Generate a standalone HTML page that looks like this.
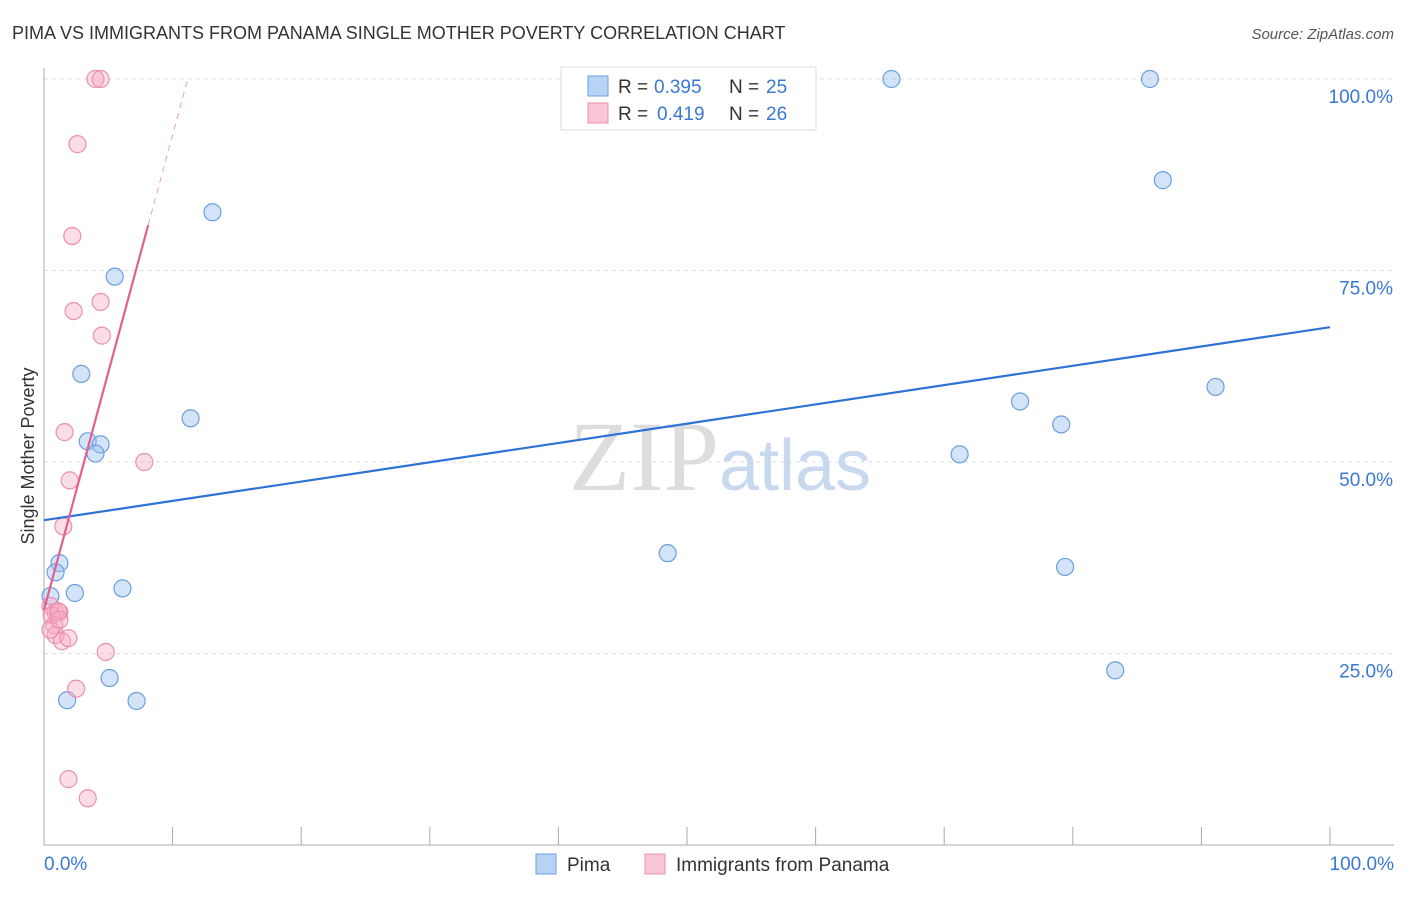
<!DOCTYPE html>
<html><head><meta charset="utf-8"><style>
body{margin:0;background:#fff;font-family:"Liberation Sans",sans-serif}
</style></head><body>
<svg width="1406" height="892" xmlns="http://www.w3.org/2000/svg" font-family="Liberation Sans, sans-serif">
<text x="12" y="39" font-size="18" fill="#333">PIMA VS IMMIGRANTS FROM PANAMA SINGLE MOTHER POVERTY CORRELATION CHART</text>
<text x="1394" y="39" font-size="15" fill="#555" text-anchor="end" font-style="italic">Source: ZipAtlas.com</text>
<g id="grid"></g>
<text x="720" y="490" font-size="100" text-anchor="middle" fill="#ddd" font-family="Liberation Serif, serif">ZIP<tspan fill="#c8d8ee" font-family="Liberation Sans, sans-serif" font-size="72">atlas</tspan></text>
<g id="axes"></g>
<g id="marks"></g>
<text transform="translate(34,456) rotate(-90)" font-size="18" fill="#333" text-anchor="middle">Single Mother Poverty</text>
<g font-size="19" fill="#333">
<rect x="561" y="67" width="255" height="63" fill="#fff" stroke="#ddd"/>
<rect x="588" y="76" width="20" height="20" fill="#b9d3f5" stroke="#6a9fe0"/>
<text x="618" y="93">R =</text><text x="654" y="93" fill="#3a78d4">0.395</text>
<text x="729" y="93">N =</text><text x="766" y="93" fill="#3a78d4">25</text>
<rect x="588" y="103" width="20" height="20" fill="#f9c6d6" stroke="#ec8fad"/>
<text x="618" y="120">R =</text><text x="657" y="120" fill="#3a78d4">0.419</text>
<text x="729" y="120">N =</text><text x="766" y="120" fill="#3a78d4">26</text>
</g>
<g>
<rect x="536" y="854" width="20" height="20" fill="#b9d3f5" stroke="#6a9fe0"/>
<text x="567" y="871" font-size="19" fill="#333">Pima</text>
<rect x="645" y="854" width="20" height="20" fill="#f9c6d6" stroke="#ec8fad"/>
<text x="676" y="871" font-size="19" fill="#333">Immigrants from Panama</text>
</g>
</svg>
<script>
const pimaX=[13.1,5.5,2.9,11.4,3.4,4.4,4.0,1.2,0.9,2.4,0.5,6.1,5.1,1.8,7.2,48.5,65.9,86.0,87.0,75.9,79.1,71.2,79.4,91.1,83.3];
const pimaY=[82.6,74.2,61.5,55.7,52.7,52.3,51.1,36.8,35.6,32.9,32.5,33.5,21.8,18.9,18.8,38.1,100,100,86.8,57.9,54.9,51.0,36.3,59.8,22.8];
const panX=[4.0,4.4,2.6,2.2,2.3,4.4,4.5,1.6,7.8,2.0,1.5,0.5,0.9,1.2,0.6,1.1,0.8,0.9,1.4,1.9,0.5,1.2,4.8,2.5,1.9,3.4];
const panY=[100,100,91.5,79.5,69.7,70.9,66.5,53.9,50.0,47.6,41.6,31.2,30.4,30.4,30.0,30.5,28.7,27.4,26.6,27.0,28.1,29.4,25.2,20.4,8.6,6.1];
const pimaTrend=[42.4,67.6];
const panTrend=[30.7,6.2]; // intercept, slope per %
const yTicks=[25,50,75,100];
const yTickLabels=["25.0%","50.0%","75.0%","100.0%"];
const xTickLabels=["0.0%","100.0%"];
const NS="http://www.w3.org/2000/svg";
const sx=v=>44+v*12.86, sy=v=>845-v*7.66;
function mk(p,t,a){const e=document.createElementNS(NS,t);for(const k in a)e.setAttribute(k,a[k]);document.getElementById(p).appendChild(e);return e;}
yTicks.forEach((t,i)=>{
 const l=mk('grid','line',{x1:44,x2:1394,y1:sy(t),y2:sy(t),stroke:'#ddd','stroke-dasharray':'4,4'});
 
 
 const tx=mk('axes','text',{x:1393,y:sy(t)+24,'font-size':19,fill:'#3a78d4','text-anchor':'end'});
 tx.textContent=yTickLabels[i];
 
 
});
const ax=mk('axes','line',{x1:44,x2:44,y1:68,y2:845,stroke:'#aaa'});


const bx=mk('axes','line',{x1:44,x2:1394,y1:845,y2:845,stroke:'#aaa'});


for(let i=1;i<=10;i++){const t=mk('axes','line',{x1:sx(i*10),x2:sx(i*10),y1:827,y2:845,stroke:'#aaa'});
 
 }
[[0,'start',44],[100,'end',1394]].forEach((d,i)=>{const t=mk('axes','text',{x:d[2],y:870,'font-size':19,fill:'#3a78d4','text-anchor':d[1]});t.textContent=xTickLabels[i];
 
 });
pimaX.forEach((x,i)=>{const c=mk('marks','circle',{cx:sx(x),cy:sy(pimaY[i]),r:8.5,fill:'rgba(160,196,240,0.45)',stroke:'#6a9fe0','stroke-width':1.2});
 
 });
panX.forEach((x,i)=>{const c=mk('marks','circle',{cx:sx(x),cy:sy(panY[i]),r:8.5,fill:'rgba(246,170,196,0.4)',stroke:'#ec8fad','stroke-width':1.2});
 
 });
const pl=mk('marks','line',{x1:sx(0),y1:sy(pimaTrend[0]),x2:sx(100),y2:sy(pimaTrend[1]),stroke:'#2f72d6','stroke-width':2.2});


const xe=8.1, xd=(100-panTrend[0])/panTrend[1];
const ql=mk('marks','line',{x1:sx(0),y1:sy(panTrend[0]),x2:sx(xe),y2:sy(panTrend[0]+panTrend[1]*xe),stroke:'#e3608e','stroke-width':2.2});


const qd=mk('marks','line',{x1:sx(xe),y1:sy(panTrend[0]+panTrend[1]*xe),x2:sx(xd),y2:sy(100),stroke:'#e8a0b8','stroke-width':1,'stroke-dasharray':'6,5'});


</script>
</body></html>
